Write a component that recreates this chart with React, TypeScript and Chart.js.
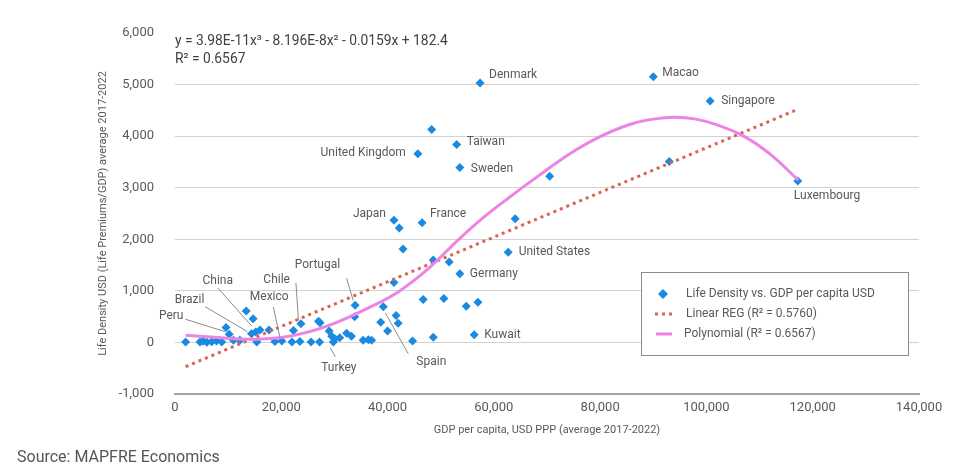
import React, { useEffect, useRef } from 'react';
import { Chart, registerables } from 'chart.js';

Chart.register(...registerables);

// ---- Data ----
const gdpPerCapita = [
  2000, 4700, 5300, 6000, 6900, 7800, 8800, 9600, 10200, 11000,
  12200, 13400, 14700, 14400, 15200, 16000, 15400, 17700, 18800, 20100,
  22000, 22300, 23500, 23700, 25600, 27000, 27300, 27200, 29000, 29500,
  29800, 30100, 31000, 32300, 33200, 33900, 33800, 35400, 36400, 37000,
  38700, 39200, 40000, 41600, 42000, 44700, 41200, 42900, 41200, 42200,
  46500, 46700, 48600, 48600, 50600, 51600, 53600, 54800, 56300, 57000,
  62700, 64000, 45700, 48300, 53000, 53600, 57400, 70500, 90000, 100700,
  93000, 117200,
];
const lifeDensity = [
  10, 10, 25, 5, 15, 30, 10, 290, 160, 40,
  40, 610, 460, 170, 200, 240, 10, 240, 20, 30,
  10, 230, 20, 360, 10, 410, 380, 10, 220, 120,
  10, 70, 90, 180, 120, 720, 500, 40, 50, 40,
  390, 690, 220, 520, 370, 30, 1160, 1810, 2370, 2220,
  2320, 830, 1600, 100, 850, 1560, 1330, 700, 150, 780,
  1750, 2400, 3660, 4130, 3840, 3390, 5030, 3220, 5150, 4680,
  3510, 3130,
];
const countryNames = [
  '', '', '', '', '', '', '', '', 'Peru', '',
  '', '', '', 'Brazil', 'China', '', '', '', '', 'Mexico',
  '', '', '', 'Chile', '', '', '', '', '', '',
  'Turkey', '', '', '', '', 'Portugal', '', '', '', '',
  '', 'Spain', '', '', '', '', '', '', 'Japan', '',
  'France', '', '', '', '', '', 'Germany', '', 'Kuwait', '',
  'United States', '', 'United Kingdom', '', 'Taiwan', 'Sweden', 'Denmark', '', 'Macao', 'Singapore',
  '', 'Luxembourg',
];

const linearX = [2000, 117200];
const linearY = [-470, 4520];

const polyX = [2000, 8000, 14000, 20000, 25000, 30000, 36000, 42000, 48000, 53000, 58000, 63000, 68000, 74000, 80000, 86000, 90000, 94000, 98000, 102000, 107000, 112000, 117300];
const polyY = [140, 95, 60, 95, 200, 370, 650, 980, 1460, 1960, 2420, 2820, 3200, 3640, 3990, 4240, 4330, 4365, 4330, 4220, 4000, 3650, 3146];

const equationLines = ['y = 3.98E-11x³ - 8.196E-8x² - 0.0159x + 182.4', 'R² = 0.6567'];
const legendLabels = ['Life Density vs. GDP per capita USD', 'Linear REG (R² = 0.5760)', 'Polynomial (R² = 0.6567)'];
const xTitle = 'GDP per capita, USD PPP (average 2017-2022)';
const yTitle = 'Life Density USD (Life Premiums/GDP) average 2017-2022';
const sourceText = 'Source: MAPFRE Economics';

// ---- Styling / label placement (pixel offsets from each marker) ----
const FONT = 'Roboto, "Noto Sans", sans-serif';
const TEXT = '#595959';
const BLUE = '#1a8ae0';
const PINK = '#ec84e6';
const RED = '#da6452';

type Lay = { dx: number; dy: number; align: CanvasTextAlign; leader?: [number, number, number, number] };
const labelLayout: Record<string, Lay> = {
  Denmark: { dx: 9, dy: -8, align: 'left' },
  Macao: { dx: 9, dy: -4, align: 'left' },
  Singapore: { dx: 11, dy: 0, align: 'left' },
  Luxembourg: { dx: -4, dy: 15, align: 'left' },
  Taiwan: { dx: 10, dy: -2, align: 'left' },
  'United Kingdom': { dx: -12, dy: -1, align: 'right' },
  Sweden: { dx: 11, dy: 1.5, align: 'left' },
  Japan: { dx: -8, dy: -6.5, align: 'right' },
  France: { dx: 8, dy: -9, align: 'left' },
  'United States': { dx: 10.5, dy: 0, align: 'left' },
  Germany: { dx: 10, dy: 0, align: 'left' },
  Kuwait: { dx: 10, dy: 0.5, align: 'left' },
  Spain: { dx: 33, dy: 55, align: 'left', leader: [2, 6, 25, 47] },
  Turkey: { dx: 5.5, dy: 26.5, align: 'center', leader: [2, 15, -3, 6] },
  Portugal: { dx: -15, dy: -40, align: 'right', leader: [-8.5, -27, -2, -5] },
  Chile: { dx: -11, dy: -44, align: 'right', leader: [-5, -41, -2.5, -4] },
  Mexico: { dx: -12.6, dy: -43.6, align: 'center', leader: [-8.5, -34, -2, -4] },
  China: { dx: -38, dy: -51.4, align: 'center', leader: [-37.8, -44, -4, -6] },
  Brazil: { dx: -62, dy: -33.7, align: 'center', leader: [-46.5, -27, -4, -2] },
  Peru: { dx: -58, dy: -18, align: 'center', leader: [-44, -15, -4, -2.5] },
};

const annotationPlugin = {
  id: 'annotations',
  afterDatasetsDraw(chart: any) {
    const ctx: CanvasRenderingContext2D = chart.ctx;
    const area = chart.chartArea;
    ctx.save();

    // Equation
    ctx.font = `13.8px ${FONT}`;
    ctx.fillStyle = '#404040';
    ctx.textBaseline = 'middle';
    ctx.textAlign = 'left';
    ctx.fillText(equationLines[0], area.left, area.top + 9);
    ctx.fillText(equationLines[1], area.left, area.top + 27);

    // Country labels
    const meta = chart.getDatasetMeta(2);
    ctx.font = `12px ${FONT}`;
    countryNames.forEach((name, i) => {
      if (!name) return;
      const el = meta.data[i];
      const lay = labelLayout[name];
      if (!el || !lay) return;
      const x = el.x;
      const y = el.y;
      if (lay.leader) {
        const [sx, sy, ex, ey] = lay.leader;
        ctx.strokeStyle = '#8c8c8c';
        ctx.lineWidth = 1;
        ctx.beginPath();
        ctx.moveTo(x + sx, y + sy);
        ctx.lineTo(x + ex, y + ey);
        ctx.stroke();
      }
      ctx.fillStyle = TEXT;
      ctx.textAlign = lay.align;
      ctx.textBaseline = 'middle';
      ctx.fillText(name, x + lay.dx, y + lay.dy);
    });

    // Legend box
    const bx = area.right - 278;
    const by = area.top + 239;
    const bw = 267;
    const bh = 83;
    ctx.fillStyle = '#ffffff';
    ctx.fillRect(bx, by, bw, bh);
    ctx.strokeStyle = '#8c8c8c';
    ctx.lineWidth = 1;
    ctx.strokeRect(bx + 0.5, by + 0.5, bw, bh);

    // item 1: diamond
    const r = 5;
    const cx = bx + 22;
    let cy = by + 22;
    ctx.fillStyle = BLUE;
    ctx.beginPath();
    ctx.moveTo(cx - r, cy);
    ctx.lineTo(cx, cy - r);
    ctx.lineTo(cx + r, cy);
    ctx.lineTo(cx, cy + r);
    ctx.closePath();
    ctx.fill();
    ctx.fillStyle = TEXT;
    ctx.font = `12px ${FONT}`;
    ctx.textAlign = 'left';
    ctx.fillText(legendLabels[0], bx + 45, cy);

    // item 2: dotted red
    cy = by + 42;
    ctx.strokeStyle = RED;
    ctx.lineWidth = 3;
    ctx.setLineDash([3, 4]);
    ctx.beginPath();
    ctx.moveTo(bx + 14, cy);
    ctx.lineTo(bx + 32, cy);
    ctx.stroke();
    ctx.setLineDash([]);
    ctx.fillStyle = TEXT;
    ctx.fillText(legendLabels[1], bx + 45, cy);

    // item 3: pink
    cy = by + 62;
    ctx.strokeStyle = PINK;
    ctx.lineWidth = 3;
    ctx.beginPath();
    ctx.moveTo(bx + 15, cy);
    ctx.lineTo(bx + 31, cy);
    ctx.stroke();
    ctx.fillStyle = TEXT;
    ctx.fillText(legendLabels[2], bx + 43, cy);

    ctx.restore();
  },
};

export default function App() {
  const canvasRef = useRef<HTMLCanvasElement | null>(null);

  useEffect(() => {
    if (!canvasRef.current) return;
    const toPts = (xs: number[], ys: number[]) => xs.map((x, i) => ({ x, y: ys[i] }));
    const chart = new Chart(canvasRef.current, {
      type: 'scatter',
      data: {
        datasets: [
          {
            label: legendLabels[2],
            data: toPts(polyX, polyY),
            showLine: true,
            borderColor: PINK,
            borderWidth: 3,
            pointRadius: 0,
            cubicInterpolationMode: 'monotone',
            fill: false,
          } as any,
          {
            label: legendLabels[1],
            data: toPts(linearX, linearY),
            showLine: true,
            borderColor: RED,
            borderWidth: 3,
            borderDash: [3, 4],
            borderCapStyle: 'butt',
            pointRadius: 0,
            fill: false,
          } as any,
          {
            label: legendLabels[0],
            data: toPts(gdpPerCapita, lifeDensity),
            backgroundColor: BLUE,
            borderColor: BLUE,
            borderWidth: 0,
            pointStyle: 'rectRot',
            pointRadius: 4.5,
          } as any,
        ],
      },
      options: {
        responsive: false,
        animation: false,
        devicePixelRatio: 1,
        layout: { padding: { left: 93, top: 33, right: 50, bottom: 35 } },
        plugins: {
          legend: { display: false },
          tooltip: { enabled: false },
        },
        scales: {
          x: {
            type: 'linear',
            min: 0,
            max: 140000,
            ticks: {
              stepSize: 20000,
              color: TEXT,
              font: { family: FONT, size: 13 },
              padding: 6,
              maxRotation: 0,
            },
            grid: { display: false, drawTicks: false },
            border: { display: true, color: '#a6a6a6', width: 2 },
            title: {
              display: true,
              text: xTitle,
              color: TEXT,
              font: { family: FONT, size: 11 },
              padding: { top: 0, bottom: 0 },
            },
            afterFit: (s: any) => {
              s.height = 43;
            },
          },
          y: {
            type: 'linear',
            min: -1000,
            max: 6000,
            ticks: {
              stepSize: 1000,
              color: TEXT,
              font: { family: FONT, size: 13 },
              padding: 21,
            },
            grid: {
              drawTicks: false,
              lineWidth: 1,
              color: (c: any) =>
                c.tick && (c.tick.value === 6000 || c.tick.value === -1000) ? 'rgba(0,0,0,0)' : '#d2d2d2',
            },
            border: { display: false },
            title: {
              display: true,
              text: yTitle,
              color: TEXT,
              font: { family: FONT, size: 11 },
              padding: { top: 4, bottom: 0 },
            },
            afterFit: (s: any) => {
              s.width = 82;
            },
          },
        } as any,
      },
      plugins: [annotationPlugin],
    });
    return () => chart.destroy();
  }, []);

  return (
    <div style={{ position: 'absolute', left: 0, top: 0, width: 969, height: 472, background: '#fff' }}>
      <canvas ref={canvasRef} width={969} height={472} style={{ display: 'block', width: 969, height: 472 }} />
      <div
        style={{
          position: 'absolute',
          left: 17,
          top: 447,
          fontFamily: FONT,
          fontSize: 16,
          color: '#555',
          whiteSpace: 'nowrap',
          lineHeight: '19px',
        }}
      >
        {sourceText}
      </div>
    </div>
  );
}
